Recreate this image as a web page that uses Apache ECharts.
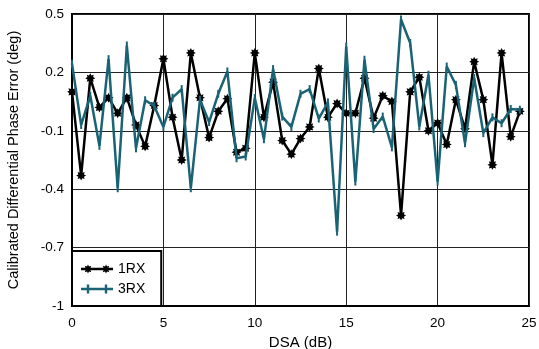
<!DOCTYPE html>
<html><head><meta charset="utf-8">
<script src="https://cdn.jsdelivr.net/npm/echarts@6/dist/echarts.min.js"></script>
<style>html,body{margin:0;padding:0;background:#fff}#c{width:539px;height:349px}</style>
</head><body><div id="c"></div>
<script>
const dsa = [0,0.5,1,1.5,2,2.5,3,3.5,4,4.5,5,5.5,6,6.5,7,7.5,8,8.5,9,9.5,10,10.5,11,11.5,12,12.5,13,13.5,14,14.5,15,15.5,16,16.5,17,17.5,18,18.5,19,19.5,20,20.5,21,21.5,22,22.5,23,23.5,24,24.5];
const rx1 = [0.10,-0.33,0.17,0.02,0.07,-0.01,0.07,-0.07,-0.18,0.03,0.27,-0.03,-0.25,0.30,0.07,-0.135,0.00,0.065,-0.21,-0.19,0.30,-0.03,0.15,-0.15,-0.22,-0.14,-0.08,0.22,-0.03,0.04,-0.01,-0.01,0.17,-0.035,0.08,0.05,-0.535,0.10,0.175,-0.10,-0.06,-0.17,0.06,-0.09,0.255,0.06,-0.275,0.30,-0.13,0.00];
const rx3 = [0.245,-0.07,0.08,-0.177,0.268,-0.395,0.338,-0.19,0.057,0.028,-0.08,0.07,0.114,-0.395,0.06,-0.055,0.09,0.205,-0.241,-0.232,0.068,-0.143,0.217,-0.027,-0.08,0.09,0.114,-0.037,0.046,-0.618,0.333,-0.361,0.265,-0.091,-0.027,-0.185,0.472,0.351,-0.078,0.188,-0.361,0.23,0.136,-0.164,0.171,-0.112,-0.031,-0.061,0.012,0.008];
const seriesNames = ['1RX','3RX'];
const xTicks = [0,5,10,15,20,25];
const yTicks = [-1,-0.7,-0.4,-0.1,0.2,0.5];

function starPts(cx, cy, ro, ri){
  let pts=[];
  for(let i=0;i<16;i++){
    const r = i%2===0 ? ro : ri;
    const a = Math.PI*i/8 - Math.PI/2;
    pts.push((cx+r*Math.cos(a)).toFixed(2)+','+(cy+r*Math.sin(a)).toFixed(2));
  }
  return 'M'+pts.join(' L')+' Z';
}
const starSymbol = 'path://' + starPts(10,10,10,6);
// legend icons: 32 x 9 box
const lineBar = 'M0,3.25 L32,3.25 L32,5.75 L0,5.75 Z';
const icon1 = 'path://' + lineBar + ' ' + starPts(7,4.5,4.5,2.6) + ' ' + starPts(25,4.5,4.5,2.6);
const icon3 = 'path://' + lineBar + ' M5.8,0 L8.2,0 L8.2,9 L5.8,9 Z M23.8,0 L26.2,0 L26.2,9 L23.8,9 Z';

const teal = '#1A6375';
const FONT = '"Liberation Sans", Arial, sans-serif';
const chart = echarts.init(document.getElementById('c'), null, {renderer:'canvas'});
chart.setOption({
  animation:false,
  backgroundColor:'#fff',
  grid:{left:72,right:10,top:14,bottom:43,outerBoundsMode:'none',containLabel:false,show:true,borderColor:'#000',borderWidth:2,backgroundColor:'transparent'},
  xAxis:{type:'value',min:xTicks[0],max:xTicks[xTicks.length-1],interval:5,
    name:'DSA (dB)',nameLocation:'middle',nameGap:26,
    nameTextStyle:{fontFamily:FONT,fontSize:15,color:'#000'},
    axisLine:{show:true,onZero:false,lineStyle:{color:'#000',width:2}},
    axisTick:{show:false},
    axisLabel:{fontFamily:FONT,fontSize:13.5,color:'#000',margin:10},
    splitLine:{show:true,lineStyle:{color:'#222',width:1}}},
  yAxis:{type:'value',min:yTicks[0],max:yTicks[yTicks.length-1],interval:0.3,
    name:'Calibrated Differential Phase Error (deg)',nameLocation:'middle',nameGap:51,
    nameTextStyle:{fontFamily:FONT,fontSize:14.5,color:'#000'},
    axisLine:{show:true,onZero:false,lineStyle:{color:'#000',width:2}},
    axisTick:{show:false},
    axisLabel:{fontFamily:FONT,fontSize:13.5,color:'#000',margin:8,formatter:v=>String(+v.toFixed(1))},
    splitLine:{show:true,lineStyle:{color:'#222',width:1}}},
  legend:{left:72,bottom:43,orient:'vertical',backgroundColor:'#fff',borderColor:'#000',borderWidth:2,
    padding:[11,16,10,9],itemGap:6,itemWidth:32,itemHeight:9,
    textStyle:{fontFamily:FONT,fontSize:14,color:'#000'},
    data:[{name:seriesNames[0],icon:icon1},{name:seriesNames[1],icon:icon3}]},
  series:[
    {name:seriesNames[0],type:'line',data:dsa.map((x,i)=>[x,rx1[i]]),
     lineStyle:{color:'#000',width:2.5},itemStyle:{color:'#000'},
     symbol:starSymbol,symbolSize:10,showSymbol:true,showAllSymbol:true,z:2},
    {name:seriesNames[1],type:'line',data:dsa.map((x,i)=>[x,rx3[i]]),
     lineStyle:{color:teal,width:2.5},itemStyle:{color:teal},
     symbol:'rect',symbolSize:[2,8],showSymbol:true,showAllSymbol:true,z:3}
  ]
});
</script></body></html>
